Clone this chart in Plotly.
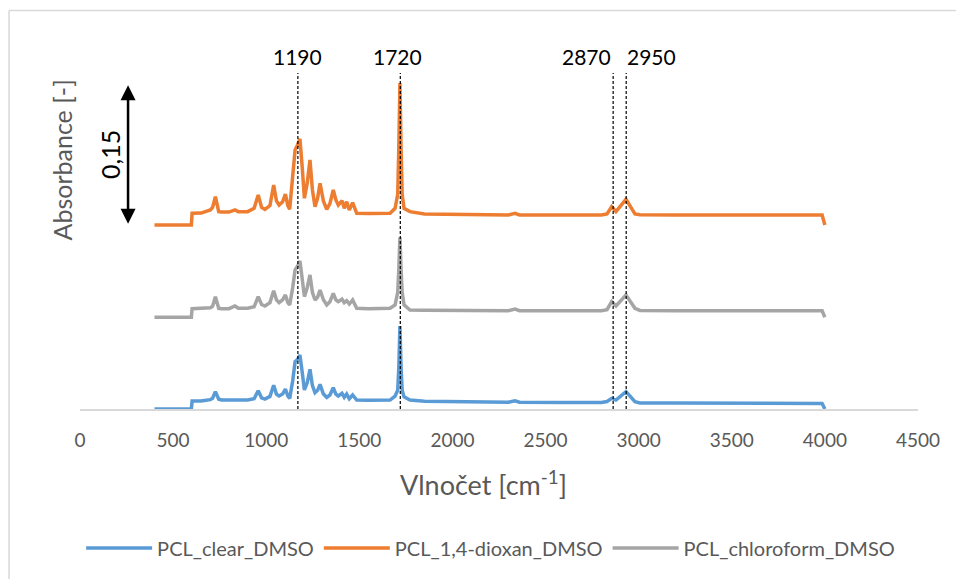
import plotly.graph_objects as go

# Wavenumber points (cm^-1) shared by all three spectra
wavenumber = [400, 598, 602, 650, 700, 712, 727, 745, 760, 800,
              832, 850, 900, 935, 957, 975, 993, 1020, 1040, 1055,
              1069, 1088, 1103, 1116, 1126, 1142, 1155, 1168, 1181, 1193,
              1205, 1220, 1235, 1248, 1262, 1276, 1289, 1307, 1325, 1342,
              1360, 1374, 1387, 1407, 1419, 1432, 1446, 1464, 1486, 1550,
              1665, 1692, 1706, 1712, 1718, 1724, 1730, 1740, 1772, 1850,
              2000, 2300, 2336, 2360, 2600, 2800, 2830, 2855, 2878, 2932,
              2980, 3007, 3200, 3500, 3800, 3985, 4000]

abs_clear = [0.0, 0.0, 0.0086, 0.0086, 0.0100, 0.0115, 0.0186, 0.0105, 0.0096, 0.0096,
             0.0104, 0.0096, 0.0096, 0.0110, 0.0196, 0.0120, 0.0107, 0.0135, 0.0254, 0.0160,
             0.0139, 0.0160, 0.0214, 0.0140, 0.0114, 0.0300, 0.0507, 0.0530, 0.0579, 0.0400,
             0.0204, 0.0280, 0.0425, 0.0250, 0.0175, 0.0200, 0.0264, 0.0160, 0.0125, 0.0150,
             0.0228, 0.0160, 0.0139, 0.0168, 0.0125, 0.0160, 0.0110, 0.0150, 0.0096, 0.0094,
             0.0096, 0.0139, 0.0200, 0.0450, 0.0890, 0.0450, 0.0200, 0.0130, 0.0096, 0.0082,
             0.0076, 0.0072, 0.0088, 0.0072, 0.0070, 0.0070, 0.0080, 0.0114, 0.0096, 0.0186,
             0.0078, 0.0065, 0.0063, 0.0062, 0.0062, 0.0060, 0.0]

abs_dioxan = [0.1972, 0.1972, 0.2097, 0.2100, 0.2133, 0.2160, 0.2276, 0.2115, 0.2110, 0.2110,
              0.2133, 0.2115, 0.2115, 0.2150, 0.2294, 0.2160, 0.2140, 0.2180, 0.2401, 0.2230,
              0.2186, 0.2220, 0.2304, 0.2180, 0.2140, 0.2500, 0.2776, 0.2830, 0.2894, 0.2600,
              0.2258, 0.2420, 0.2669, 0.2350, 0.2168, 0.2260, 0.2419, 0.2230, 0.2140, 0.2200,
              0.2347, 0.2240, 0.2186, 0.2233, 0.2151, 0.2222, 0.2133, 0.2211, 0.2097, 0.2095,
              0.2097, 0.2151, 0.2300, 0.2800, 0.3494, 0.2800, 0.2300, 0.2151, 0.2115, 0.2090,
              0.2085, 0.2080, 0.2097, 0.2080, 0.2079, 0.2080, 0.2090, 0.2168, 0.2115, 0.2247,
              0.2090, 0.2082, 0.2080, 0.2080, 0.2080, 0.2079, 0.1972]

abs_chloroform = [0.0983, 0.0983, 0.1075, 0.1078, 0.1085, 0.1100, 0.1204, 0.1079, 0.1075, 0.1075,
                  0.1104, 0.1079, 0.1079, 0.1095, 0.1204, 0.1120, 0.1104, 0.1140, 0.1268, 0.1170,
                  0.1139, 0.1170, 0.1222, 0.1140, 0.1115, 0.1300, 0.1490, 0.1530, 0.1586, 0.1400,
                  0.1204, 0.1300, 0.1436, 0.1250, 0.1168, 0.1200, 0.1275, 0.1170, 0.1115, 0.1150,
                  0.1240, 0.1170, 0.1150, 0.1176, 0.1139, 0.1160, 0.1125, 0.1168, 0.1079, 0.1075,
                  0.1079, 0.1115, 0.1250, 0.1500, 0.1840, 0.1500, 0.1250, 0.1115, 0.1061, 0.1058,
                  0.1055, 0.1054, 0.1070, 0.1054, 0.1054, 0.1054, 0.1065, 0.1150, 0.1104, 0.1222,
                  0.1079, 0.1056, 0.1054, 0.1054, 0.1054, 0.1052, 0.0983]

series_names = ["PCL_clear_DMSO", "PCL_1,4-dioxan_DMSO", "PCL_chloroform_DMSO"]
series_colors = ["#5B9BD5", "#ED7D31", "#A5A5A5"]

# Marked bands: line positions and their labels
peak_positions = [1170, 1720, 2863, 2933]
peak_labels = ["1190", "1720", "2870", "2950"]
peak_label_shift = [0, -3, -27, 25]

# Scale bar (absorbance 0.15)
scale_bar_x = 258
scale_bar_bottom = 0.197
scale_bar_length = 0.15
scale_bar_label = "0,15"

x_ticks = [0, 500, 1000, 1500, 2000, 2500, 3000, 3500, 4000, 4500]

FONT = "Lato, 'Open Sans', sans-serif"
GREY_TXT = "#595959"

fig = go.Figure()
for name, ys, col in zip(series_names, [abs_clear, abs_dioxan, abs_chloroform], series_colors):
    fig.add_trace(go.Scatter(x=wavenumber, y=ys, mode="lines", name=name,
                             line=dict(color=col, width=3.5)))

shapes = []
for px in peak_positions:
    shapes.append(dict(type="line", xref="x", yref="y", x0=px, x1=px, y0=0, y1=0.36,
                       line=dict(color="black", width=1.2, dash="3px,2px"), layer="above"))

# Chart-area border (left & top visible)
shapes.append(dict(type="line", xref="paper", yref="paper", x0=-0.0847, x1=1.2, y0=1.142, y1=1.142,
                   line=dict(color="#d9d9d9", width=1.5)))
shapes.append(dict(type="line", xref="paper", yref="paper", x0=-0.0847, x1=-0.0847, y0=1.142, y1=-0.6,
                   line=dict(color="#d9d9d9", width=1.5)))

annotations = []
for px, lab, sh in zip(peak_positions, peak_labels, peak_label_shift):
    annotations.append(dict(x=px, y=1.009, xref="x", yref="paper", text=lab, showarrow=False,
                            xshift=sh, yanchor="middle", xanchor="center",
                            font=dict(family=FONT, size=21, color="black")))

annotations.append(dict(x=scale_bar_x, y=scale_bar_bottom + scale_bar_length, xref="x", yref="y",
                        ax=scale_bar_x, ay=scale_bar_bottom, axref="x", ayref="y",
                        text="", showarrow=True, arrowhead=2, startarrowhead=2,
                        arrowside="end+start", arrowsize=1.2, startarrowsize=1.2,
                        arrowwidth=2.5, arrowcolor="black"))
annotations.append(dict(x=0.0358, y=0.728, xref="paper", yref="paper", text=scale_bar_label,
                        showarrow=False, textangle=-90, xanchor="center", yanchor="middle",
                        font=dict(family=FONT, size=25, color="black")))
annotations.append(dict(x=-0.0215, y=0.715, xref="paper", yref="paper", text="Absorbance [-]",
                        showarrow=False, textangle=-90, xanchor="center", yanchor="middle",
                        font=dict(family=FONT, size=25, color=GREY_TXT)))
annotations.append(dict(x=0.481, y=-0.212, xref="paper", yref="paper",
                        text="Vlnočet [cm<sup>-1</sup>]",
                        showarrow=False, xanchor="center", yanchor="middle",
                        font=dict(family=FONT, size=27, color=GREY_TXT)))

fig.update_layout(
    width=956, height=579,
    margin=dict(l=80, r=38, t=60, b=170),
    paper_bgcolor="white", plot_bgcolor="white",
    font=dict(family=FONT, color=GREY_TXT),
    shapes=shapes, annotations=annotations,
    showlegend=True,
    legend=dict(orientation="h", x=0.49, xanchor="center", y=-0.398, yanchor="middle",
                font=dict(family=FONT, size=20, color=GREY_TXT), itemwidth=66),
    xaxis=dict(range=[0, 4500], tickvals=x_ticks, ticktext=[str(v) for v in x_ticks],
               showgrid=False, zeroline=False, showline=True, linecolor="#d9d9d9", linewidth=1.5,
               ticks="", ticklabelstandoff=13, tickfont=dict(family=FONT, size=19, color=GREY_TXT)),
    yaxis=dict(range=[0, 0.374], showgrid=False, zeroline=False, showline=False,
               showticklabels=False, ticks=""),
)

fig.write_html("out.html")
